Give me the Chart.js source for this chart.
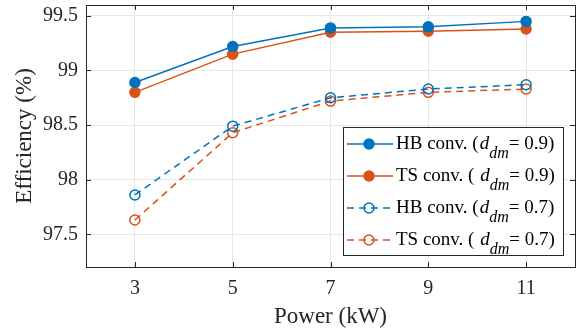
<!DOCTYPE html>
<html>
<head>
<meta charset="utf-8">
<script src="https://cdn.jsdelivr.net/npm/chart.js@4/dist/chart.umd.min.js"></script>
<style>
  html, body { margin: 0; padding: 0; background: #fff; }
  #wrap { width: 578px; height: 328px; position: relative; }
</style>
</head>
<body>
<div id="wrap"><canvas id="effChart"></canvas></div>
<script>
// data
const powerKW = [3, 5, 7, 9, 11];
const hb09 = [98.89, 99.22, 99.39, 99.40, 99.45];
const ts09 = [98.80, 99.15, 99.35, 99.36, 99.38];
const hb07 = [97.86, 98.49, 98.75, 98.83, 98.87];
const ts07 = [97.63, 98.43, 98.72, 98.80, 98.83];
const yTicks = [97.5, 98, 98.5, 99, 99.5];
const legendNames = ['HB conv. (', 'TS conv. ( ', 'HB conv. (', 'TS conv. ( '];
const legendDuty = ['0.9', '0.9', '0.7', '0.7'];

const BLUE = '#0072BD';
const ORANGE = '#D95319';
const SERIF = '"Liberation Serif", "DejaVu Serif", serif';

function toPoints(ys) {
    return powerKW.map((x, i) => ({ x: x, y: ys[i] }));
}

function makeSet(ys, color, dashed) {
    return {
        data: toPoints(ys),
        borderColor: color,
        backgroundColor: color,
        borderWidth: 1.5,
        borderDash: dashed ? [7, 5] : [],
        pointRadius: 5,
        pointBorderWidth: 1.5,
        pointBorderColor: color,
        pointBackgroundColor: dashed ? 'rgba(0,0,0,0)' : color,
        tension: 0
    };
}

// box around the axes plus inward ticks, like the original figure
const boxPlugin = {
    id: 'boxPlugin',
    afterDatasetsDraw(chart) {
        const ctx = chart.ctx;
        const a = chart.chartArea;
        const xs = chart.scales.x, ys = chart.scales.y;
        ctx.save();
        ctx.strokeStyle = '#262626';
        ctx.lineWidth = 1;
        ctx.strokeRect(Math.round(a.left) + 0.5, Math.round(a.top) + 0.5,
            Math.round(a.right - a.left), Math.round(a.bottom - a.top));
        ctx.beginPath();
        powerKW.forEach(v => {
            const px = Math.round(xs.getPixelForValue(v)) + 0.5;
            ctx.moveTo(px, a.bottom); ctx.lineTo(px, a.bottom - 5);
            ctx.moveTo(px, a.top); ctx.lineTo(px, a.top + 5);
        });
        yTicks.forEach(v => {
            const py = Math.round(ys.getPixelForValue(v)) + 0.5;
            ctx.moveTo(a.left, py); ctx.lineTo(a.left + 5, py);
            ctx.moveTo(a.right, py); ctx.lineTo(a.right - 5, py);
        });
        ctx.stroke();
        ctx.restore();
    }
};

// legend inside the axes with subscript d_dm
const legendPlugin = {
    id: 'legendPlugin',
    afterDraw(chart) {
        const ctx = chart.ctx;
        const bx = 343, by = 127, bw = 220, bh = 128;
        ctx.save();
        ctx.fillStyle = '#fff';
        ctx.fillRect(bx, by, bw, bh);
        ctx.strokeStyle = '#262626';
        ctx.lineWidth = 1;
        ctx.strokeRect(bx + 0.5, by + 0.5, bw, bh);
        chart.data.datasets.forEach((ds, i) => {
            const y = by + 17 + i * 32;
            ctx.strokeStyle = ds.borderColor;
            ctx.lineWidth = 1.5;
            ctx.setLineDash(ds.borderDash);
            ctx.beginPath();
            ctx.moveTo(bx + 4, y);
            ctx.lineTo(bx + 50, y);
            ctx.stroke();
            ctx.setLineDash([]);
            ctx.beginPath();
            ctx.arc(bx + 26, y, 5, 0, Math.PI * 2);
            ctx.fillStyle = ds.pointBackgroundColor;
            ctx.fill();
            ctx.stroke();

            ctx.fillStyle = '#000';
            ctx.textBaseline = 'middle';
            let tx = bx + 53;
            ctx.font = '19px ' + SERIF;
            ctx.fillText(legendNames[i], tx, y);
            tx += ctx.measureText(legendNames[i]).width + 1;
            ctx.font = 'italic 19px ' + SERIF;
            ctx.fillText('d', tx, y);
            tx += ctx.measureText('d').width;
            ctx.font = 'italic 16px ' + SERIF;
            ctx.fillText('dm', tx, y + 10);
            tx += ctx.measureText('dm').width;
            ctx.font = '19px ' + SERIF;
            ctx.fillText('= ' + legendDuty[i] + ')', tx, y);
        });
        ctx.restore();
    }
};

const effConfig = {
    type: 'line',
    data: {
        datasets: [
            makeSet(hb09, BLUE, false),
            makeSet(ts09, ORANGE, false),
            makeSet(hb07, BLUE, true),
            makeSet(ts07, ORANGE, true)
        ]
    },
    options: {
        responsive: false,
        animation: false,
        layout: { autoPadding: false, padding: { top: 5, right: 3, left: 0, bottom: 0 } },
        plugins: { legend: { display: false }, tooltip: { enabled: false } },
        scales: {
            x: {
                type: 'linear',
                min: 2,
                max: 12,
                afterBuildTicks: (s) => { s.ticks = powerKW.map(v => ({ value: v })); },
                afterFit: (s) => {
                    s.height = 61;
                    s.paddingLeft = 0;
                    s.paddingRight = 0;
                },
                grid: { color: '#e6e6e6', drawTicks: false },
                border: { display: false },
                ticks: {
                    padding: 10,
                    color: '#262626',
                    font: { family: SERIF, size: 20 },
                    maxRotation: 0
                },
                title: {
                    display: true,
                    text: 'Power (kW)',
                    color: '#262626',
                    font: { family: SERIF, size: 23, lineHeight: 1.0 },
                    padding: { top: 0, bottom: 0 }
                }
            },
            y: {
                min: 97.2,
                max: 99.6,
                afterBuildTicks: (s) => { s.ticks = yTicks.map(v => ({ value: v })); },
                afterFit: (s) => {
                    s.width = 86;
                    s.paddingTop = 0;
                    s.paddingBottom = 0;
                },
                grid: { color: '#e6e6e6', drawTicks: false },
                border: { display: false },
                ticks: {
                    padding: 8,
                    color: '#262626',
                    font: { family: SERIF, size: 20 },
                    callback: (v) => String(v)
                },
                title: {
                    display: true,
                    text: 'Efficiency (%)',
                    color: '#262626',
                    font: { family: SERIF, size: 23, lineHeight: 1.0 },
                    padding: { top: 13, bottom: 0 }
                }
            }
        }
    },
    plugins: [boxPlugin, legendPlugin]
};

const canvas = document.getElementById('effChart');
canvas.width = 578;
canvas.height = 328;
let effChart = new Chart(canvas, effConfig);
</script>
</body>
</html>
